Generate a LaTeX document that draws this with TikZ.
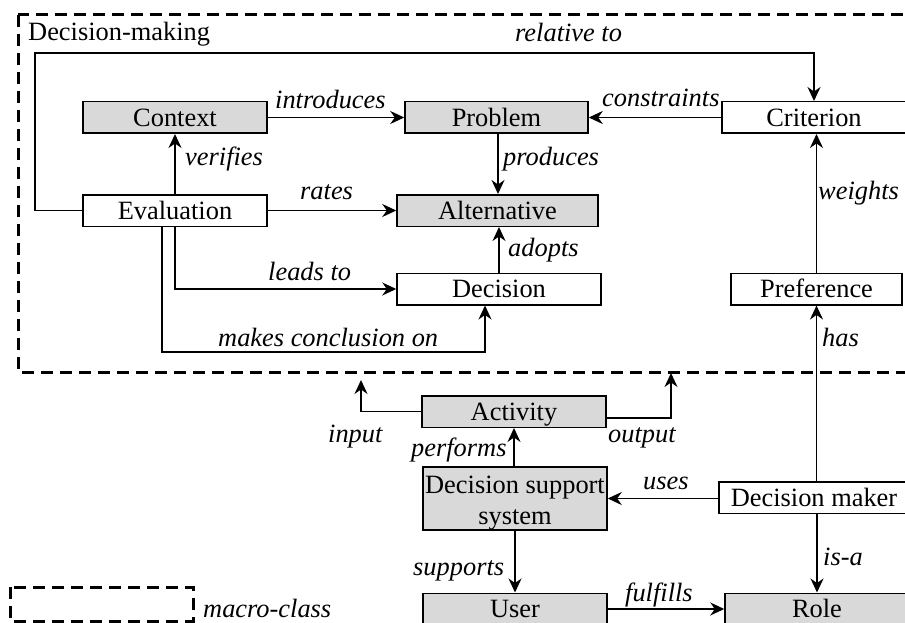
\documentclass[tikz,border=0pt]{standalone}
\usepackage{fontspec}
\setmainfont{Liberation Serif}
\usetikzlibrary{arrows.meta}

\definecolor{boxgray}{HTML}{D9D9D9}
\newcommand{\diagfont}{\fontsize{26.4}{31}\selectfont}

\tikzset{
  cls/.style={draw=black, line width=1.5pt, inner sep=0pt,
    text height=17.4pt, text depth=0pt, minimum height=31.5pt},
  filled/.style={cls, fill=boxgray},
  plain/.style={cls, fill=white},
  conn/.style={line width=1.7pt, -{Stealth[length=14pt,width=13pt]}},
  macro/.style={line width=3pt, dash pattern=on 12pt off 7pt},
  lbl/.style={font=\diagfont\itshape, inner sep=0pt, anchor=base west},
}

\begin{document}
\begin{tikzpicture}[x=1pt, y=-1pt, font=\diagfont]
\useasboundingbox (0,0) rectangle (905,623);
\clip (0,0) rectangle (905,623);

% macro-class frame around the decision-making concepts
\draw[macro] (18,15) rectangle (930,372);
\node[anchor=base west, inner sep=0pt] (dmtitle) at (28,41) {Decision-making};

% classes
\node[filled, minimum width=184pt] (ctx)  at (175,117.5) {Context};
\node[filled, minimum width=183pt] (prob) at (496.5,117.5) {Problem};
\node[plain,  minimum width=184pt] (crit) at (814,117.5) {Criterion};
\node[plain,  minimum width=184pt] (eval) at (175,210.5) {Evaluation};
\node[filled, minimum width=201pt] (alt)  at (497.5,210.5) {Alternative};
\node[plain,  minimum width=204pt] (dec)  at (499,289) {Decision};
\node[plain,  minimum width=171pt] (pref) at (816.5,289) {Preference};
\node[filled, minimum width=184pt] (act)  at (514,411.5) {Activity};
\node[draw=black, line width=1.5pt, fill=boxgray, inner sep=0pt,
      minimum width=184pt, minimum height=63pt] (dss) at (515,498.5)
      {\raisebox{-4pt}[\height][\depth]{\begin{tabular}{@{}c@{}}Decision support\\system\end{tabular}}};
\node[plain,  minimum width=190pt] (dm)   at (814,497.5) {Decision maker};
\node[filled, minimum width=184pt] (user) at (515,609) {User};
\node[filled, minimum width=184pt] (role) at (817,609) {Role};

% routing points
\coordinate (relcorner) at (35,53);
\coordinate (mcturn) at (485,352);
\coordinate (intip) at (361,380);
\coordinate (outstart) at (606,418);
\coordinate (outtip) at (671,373);

% connectors inside the frame
\draw[conn] (eval.west) -| (relcorner) -| (crit.north);
\draw[conn] (ctx.east) -- (prob.west);
\draw[conn] (crit.west) -- (prob.east);
\draw[conn] ([xshift=1.5pt]prob.south) -- ([xshift=1.5pt]prob.south |- alt.north);
\draw[conn] (eval.north) -- (ctx.south);
\draw[conn] (eval.east) -- (alt.west);
\draw[conn] (eval.south) |- (dec.west);
\draw[conn] ([xshift=-13pt]eval.south) |- (mcturn) -- (mcturn |- dec.south);
\draw[conn] (dec.north) -- (dec.north |- alt.south);
\draw[conn] (pref.north) -- (pref.north |- crit.south);

% connectors below the frame
\draw[conn] (dm.north -| pref.north) -- (pref.south);
\draw[conn] (act.west) -| (intip);
\draw[conn] (outstart) -| (outtip);
\draw[conn] (dss.north -| act.south) -- (act.south);
\draw[conn] (dm.west |- dss.east) -- (dss.east);
\draw[conn] (dss.south) -- (user.north);
\draw[conn] (dm.south -| role.north) -- (role.north);
\draw[conn] (user.east) -- (role.west);

% relation labels
\node[lbl] (l-rel)   at (515,42)    {relative to};
\node[lbl] (l-intro) at (275,109)   {introduces};
\node[lbl] (l-cons)  at (602,107)   {constraints};
\node[lbl] (l-ver)   at (185,166)   {verifies};
\node[lbl] (l-prod)  at (503,166)   {produces};
\node[lbl] (l-rates) at (300,199)   {rates};
\node[lbl] (l-wts)   at (818,199)   {weights};
\node[lbl] (l-adopt) at (508,256)   {adopts};
\node[lbl] (l-leads) at (268,280)   {leads to};
\node[lbl] (l-mcon)  at (218,346)   {makes conclusion on};
\node[lbl] (l-has)   at (822,346)   {has};
\node[lbl] (l-in)    at (328,442)   {input};
\node[lbl] (l-out)   at (608,442)   {output};
\node[lbl] (l-perf)  at (411,456)   {performs};
\node[lbl] (l-uses)  at (643,489)   {uses};
\node[lbl] (l-sup)   at (413,575)   {supports};
\node[lbl] (l-isa)   at (823,565)   {is-a};
\node[lbl] (l-ful)   at (625,601)   {fulfills};

% legend
\draw[macro] (10,587) rectangle (193,621);
\node[lbl] (l-macro) at (203,617) {macro-class};
\end{tikzpicture}
\end{document}
